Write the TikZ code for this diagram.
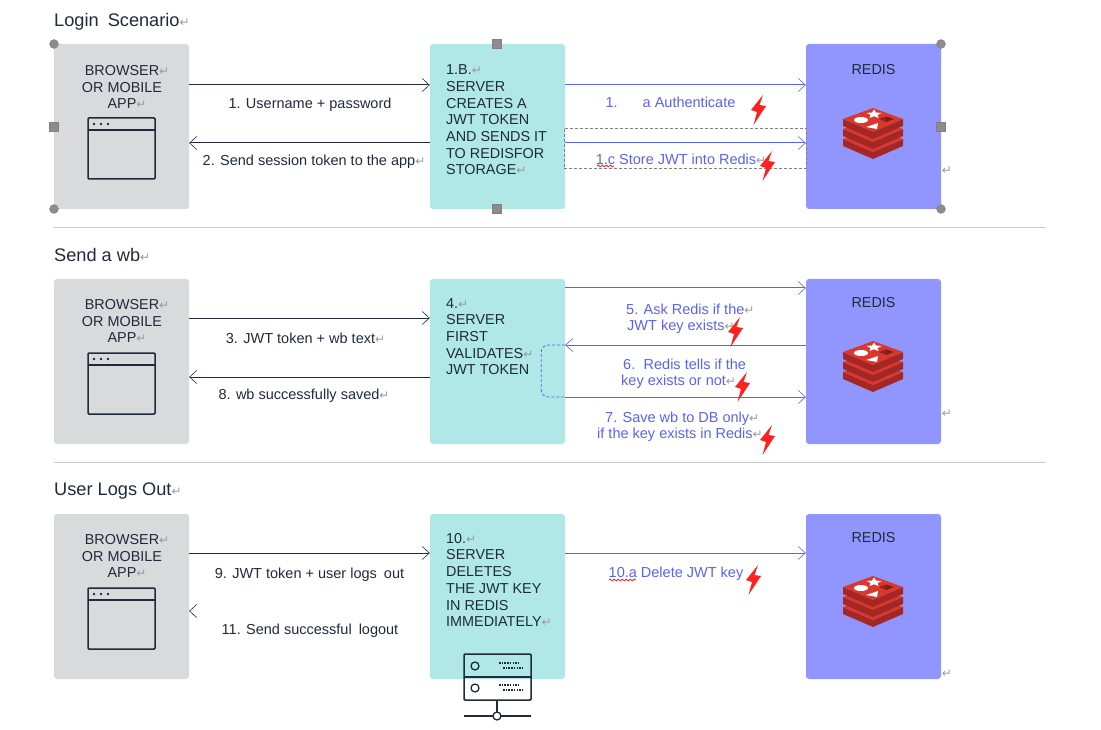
\documentclass[tikz,border=0pt]{standalone}
\usepackage{fontspec}
\setmainfont{Liberation Sans}
\newfontfamily\markfont{DejaVu Sans}
\usetikzlibrary{arrows.meta, decorations.pathmorphing}
\definecolor{browsergray}{HTML}{D9DADC}
\definecolor{serverteal}{HTML}{AFE8E7}
\definecolor{redisblue}{HTML}{9196FF}
\definecolor{navy}{HTML}{1F2A3C}
\definecolor{linkblue}{HTML}{5A62F2}
\definecolor{boltred}{HTML}{FF2020}
\definecolor{markgray}{HTML}{9A9A9A}
\definecolor{rulegray}{HTML}{C9C9C9}
\definecolor{handlegray}{HTML}{8C8C8C}
\definecolor{logolight}{HTML}{D8382D}
\definecolor{logodark}{HTML}{A32825}
\definecolor{logoshade}{HTML}{7A1C18}
\newcommand{\retmark}{{\markfont\fontsize{12}{12}\selectfont\textcolor{markgray}{↵}}}
\newcommand{\retlap}{\rlap{\retmark}}

\begin{document}
\begin{tikzpicture}[x=1pt, y=-1pt,
  >={Straight Barb[length=7pt, width=13pt, line width=0.6pt]},
  box/.style={fill=#1, rounded corners=3pt, minimum width=135pt,
              minimum height=165pt, inner sep=0pt},
  boxtext/.style={text=navy, font=\fontsize{14.4}{16.7}\selectfont, align=#1, inner sep=0pt},
  msg/.style={text=navy, font=\fontsize{14.5}{16}\selectfont, align=center, inner sep=0pt},
  bluemsg/.style={msg, text=linkblue},
  blueleft/.style={bluemsg, align=left, anchor=west},
  title/.style={text=navy, font=\fontsize{18.2}{20}\selectfont, anchor=west, inner sep=0pt},
  retnode/.style={inner sep=0pt},
  flow/.style={->, navy, line width=1pt},
  blueflow/.style={->, linkblue, line width=1pt},
  handleround/.style={circle, fill=handlegray, draw=gray, line width=0.3pt, minimum size=9pt, inner sep=0pt},
  handlesquare/.style={rectangle, fill=handlegray, draw=gray, line width=0.3pt, minimum size=9pt, inner sep=0pt},
  wavy/.style={red, line width=0.7pt, decorate, decoration={snake, amplitude=1pt, segment length=4pt}},
  pics/bolt/.style={code={
    \fill[boltred] (12,0) -- (0,15) -- (6,17) -- (2.5,30) -- (15,11) -- (8.5,10) -- cycle;
  }},
  pics/browsericon/.style={code={
    \draw[navy, line width=1.5pt, rounded corners=1pt] (0,0) rectangle (67,61);
    \draw[navy, line width=1.5pt] (0,12) -- (67,12);
    \foreach \dotx in {6,13,20} \fill[navy] (\dotx,6) circle (1.4);
  }},
  pics/servericon/.style={code={
    \draw[navy, line width=1.5pt, rounded corners=1pt] (0,0) rectangle (67,46);
    \draw[navy, line width=1.5pt] (0,23) -- (67,23);
    \foreach \rowy in {0,22} {
      \draw[navy, line width=1.3pt] (11,12+\rowy) circle (4);
      \draw[navy, line width=1.2pt, dash pattern=on 1.5pt off 1.2pt] (35,9+\rowy) -- (56,9+\rowy);
      \draw[navy, line width=1.2pt, dash pattern=on 1.5pt off 1.2pt] (39,14+\rowy) -- (60,14+\rowy);
    }
    \draw[navy, line width=1.3pt] (33,46) -- (33,62);
    \draw[navy, line width=1.3pt] (0,62) -- (67,62);
    \draw[navy, line width=1.3pt, fill=white] (33,62) circle (4);
  }},
  pics/redislogo/.style={code={
    \foreach \layery in {20,10,0} {
      \fill[logodark] (-30,11+\layery) -- (0,24+\layery) -- (30,11+\layery) -- (30,18+\layery)
        -- (0,31+\layery) -- (-30,18+\layery) -- cycle;
      \fill[logolight] (0,\layery) -- (30,11+\layery) -- (0,24+\layery) -- (-30,11+\layery) -- cycle;
    }
    \fill[white] (1,1.5) -- (3,4.5) -- (8.5,5) -- (4.5,7) -- (5.5,10) -- (1,8.3) -- (-3.5,10)
      -- (-2.5,7) -- (-6.5,5) -- (-1,4.5) -- cycle;
    \fill[white] (-12,12) ellipse (7 and 3);
    \fill[white] (-7,19) -- (5,15) -- (4,21) -- cycle;
    \fill[logoshade!75!logolight] (6,11) -- (13,8.5) -- (21,11) -- (13,14) -- cycle;
    \fill[logoshade] (13,8.7) -- (20,11) -- (13,13.8) -- cycle;
  }}]

% Rows of the arrows
\coordinate (rowAa) at (0,85);
\coordinate (rowAb) at (0,143);
\coordinate (rowBa) at (0,318);
\coordinate (rowBb) at (0,377);
\coordinate (rowBc) at (0,288);
\coordinate (rowBd) at (0,345);
\coordinate (rowBe) at (0,397);
\coordinate (rowCa) at (0,553);
\coordinate (rowCb) at (0,611);

\useasboundingbox (0,0) rectangle (1101,730);

% Section titles and rules
\node[title] (titleA) at (54,21.5) {Login\hspace{4pt} Scenario\retmark};
\node[title] (titleB) at (54,254.5) {Send a wb\retmark};
\node[title] (titleC) at (54,491) {User Logs Out\retmark};
\draw[rulegray, line width=0.8pt] (54,227) -- (1046,227);
\draw[rulegray, line width=0.8pt] (54,462) -- (1046,462);

% Boxes
\node[box=browsergray] (browserA) at (121.5,126.5) {};
\node[box=serverteal] (serverA) at (497.5,126.5) {};
\node[box=redisblue] (redisA) at (873.5,126.5) {};
\node[box=browsergray] (browserB) at (121.5,361.5) {};
\node[box=serverteal] (serverB) at (497.5,361.5) {};
\node[box=redisblue] (redisB) at (873.5,361.5) {};
\node[box=browsergray] (browserC) at (121.5,596.5) {};
\node[box=serverteal] (serverC) at (497.5,596.5) {};
\node[box=redisblue] (redisC) at (873.5,596.5) {};

% Box texts
\foreach \rowname/\rowy in {A/87, B/321, C/556} {
  \node[boxtext=center] (browsertext\rowname) at (122,\rowy) {BROWSER\retlap\\OR MOBILE\\APP\retlap};
}
\node[boxtext=center] (redistextA) at (873.5,70) {REDIS};
\node[boxtext=center] (redistextB) at (873.5,303) {REDIS};
\node[boxtext=center] (redistextC) at (873.5,538) {REDIS};
\node[boxtext=left, anchor=north west] (servertextA) at (446,64.5)
  {1.B.\retmark\\SERVER\\CREATES A\\JWT TOKEN\\AND SENDS IT\\TO REDISFOR\\STORAGE\retmark};
\node[boxtext=left, anchor=north west] (servertextB) at (446,298)
  {4.\retmark\\SERVER\\FIRST\\VALIDATES\retmark\\JWT TOKEN};
\node[boxtext=left, anchor=north west] (servertextC) at (446,533)
  {10.\retmark\\SERVER\\DELETES\\THE JWT KEY\\IN REDIS\\IMMEDIATELY\retmark};

% Icons
\pic at (88,118) {browsericon};
\pic at (88,353) {browsericon};
\pic at (88,588) {browsericon};
\pic at (464,654) {servericon};
\pic at (873,108) {redislogo};
\pic at (873,341) {redislogo};
\pic at (873,576) {redislogo};

% Frame and handles of the first row
\node[draw=gray, densely dashed, line width=0.6pt, minimum width=242pt, minimum height=40pt, inner sep=0pt] (storeframe) at (685,148) {};
\foreach \handlename/\handlex/\handley in {a/54/44, b/54/209, c/941/44, d/941/209} {
  \node[handleround] (handle\handlename) at (\handlex,\handley) {};
}
\foreach \handlename/\handlex/\handley in {e/54/127, f/497/44, g/497/209, h/941/127} {
  \node[handlesquare] (handle\handlename) at (\handlex,\handley) {};
}

% Arrows
\draw[flow] (browserA.east |- rowAa) -- (serverA.west |- rowAa);
\draw[flow] (serverA.west |- rowAb) -- (browserA.east |- rowAb);
\draw[blueflow] (serverA.east |- rowAa) -- (redisA.west |- rowAa);
\draw[blueflow] (serverA.east |- rowAb) -- (redisA.west |- rowAb);
\draw[flow] (browserB.east |- rowBa) -- (serverB.west |- rowBa);
\draw[flow] (serverB.west |- rowBb) -- (browserB.east |- rowBb);
\draw[blueflow] (serverB.east |- rowBc) -- (redisB.west |- rowBc);
\draw[blueflow] (redisB.west |- rowBd) -- (serverB.east |- rowBd);
\draw[blueflow] (serverB.east |- rowBe) -- (redisB.west |- rowBe);
\draw[blueflow, line width=0.8pt, densely dashed, rounded corners=7pt, -] (serverB.east |- rowBd) -- ++(-24,0) -- ++(0,52) -- (serverB.east |- rowBe);
\draw[flow] (browserC.east |- rowCa) -- (serverC.west |- rowCa);
\draw[flow, draw=white, {Straight Barb[length=7pt, width=13pt, line width=0.6pt, color=navy]}-] (browserC.east |- rowCb) -- (serverC.west |- rowCb);
\draw[blueflow] (serverC.east |- rowCa) -- (redisC.west |- rowCa);

% Messages
\node[msg] (msgone) at (310,105) {1. Username + password};
\node[msg] (msgtwo) at (309,162) {2. Send session token to the app\retlap};
\node[msg] (msgthree) at (300.5,338) {3. JWT token + wb text\retlap};
\node[msg] (msgeight) at (299,396) {8. wb successfully saved\retlap};
\node[msg] (msgnine) at (309.5,575) {9. JWT token + user logs\hspace{3pt} out};
\node[msg] (msgeleven) at (310,631) {11. Send successful\hspace{3pt} logout};
\node[bluemsg] (msgauth) at (670.5,102.5) {1.\hspace{25pt}a Authenticate};
\node[bluemsg] (msgstore) at (676,159) {1.c Store JWT into Redis\retlap};
\node[blueleft] (msgfive) at (626,319) {5. Ask Redis if the\retmark\\\hspace*{1pt}JWT key exists\retmark};
\node[blueleft] (msgsix) at (621,374) {\hspace*{2pt}6.\hspace{3pt} Redis tells if the\\key exists or not\retmark};
\node[blueleft] (msgseven) at (597,427) {\hspace*{8pt}7. Save wb to DB only\retmark\\if the key exists in Redis\retmark};
\node[bluemsg] (msgdelete) at (676,574) {10.a Delete JWT key};
\draw[wavy] (597,166) -- (614,166);
\draw[wavy] (609,580) -- (636,580);

% Bolts
\pic at (751,95) {bolt};
\pic at (760,151) {bolt};
\pic at (728,317) {bolt};
\pic at (735,372) {bolt};
\pic at (760,425) {bolt};
\pic at (746,565) {bolt};

% Paragraph marks beside the boxes
\node[retnode] (retA) at (947,171) {\retmark};
\node[retnode] (retB) at (947,414) {\retmark};
\node[retnode] (retC) at (947,674) {\retmark};

\end{tikzpicture}
\end{document}
